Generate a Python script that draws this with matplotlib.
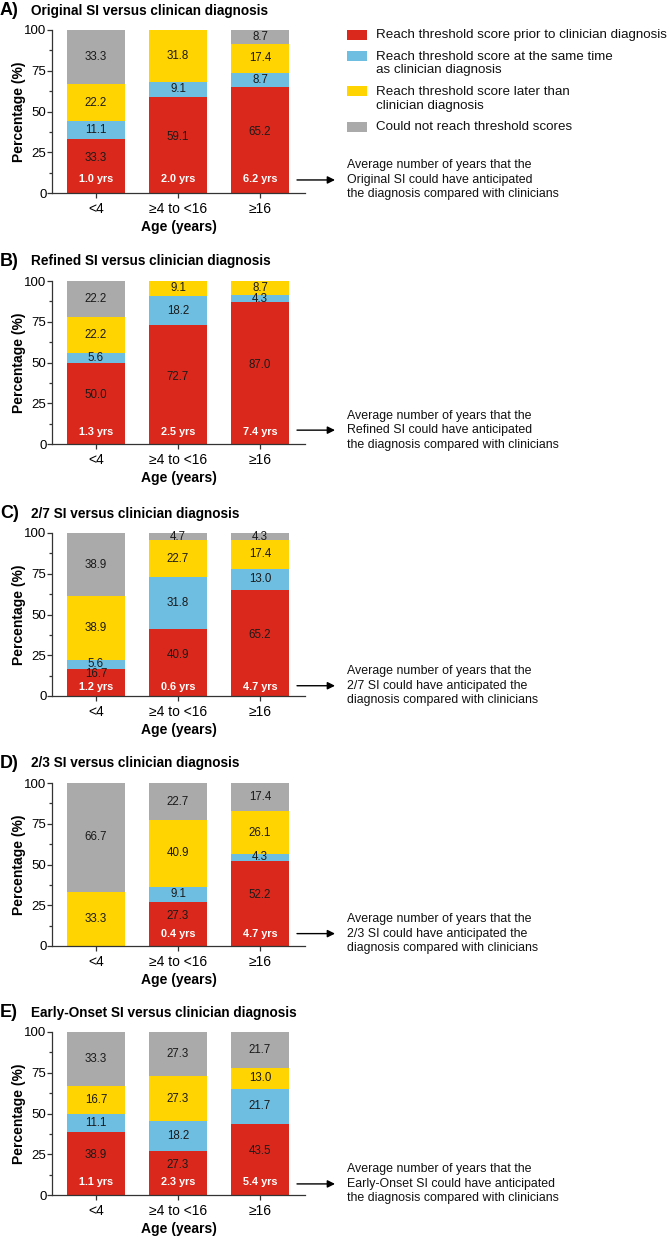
import matplotlib
matplotlib.use("Agg")
import matplotlib.pyplot as plt
from matplotlib.patches import Rectangle

plt.rcParams['font.family'] = ['Liberation Sans', 'DejaVu Sans']

# ---------------- data ----------------
groups = ['<4', '≥4 to <16', '≥16']
series_names = ['Reach threshold score prior to clinician diagnosis',
                'Reach threshold score at the same time\nas clinician diagnosis',
                'Reach threshold score later than\nclinician diagnosis',
                'Could not reach threshold scores']
series_colors = ['#DA291C', '#6EBEE2', '#FFD400', '#AAAAAA']

panel_letters = ['A)', 'B)', 'C)', 'D)', 'E)']
panel_titles = ['Original SI versus clinican diagnosis',
                'Refined SI versus clinician diagnosis',
                '2/7 SI versus clinician diagnosis',
                '2/3 SI versus clinician diagnosis',
                'Early-Onset SI versus clinician diagnosis']
panel_notes = ['Average number of years that the\nOriginal SI could have anticipated\nthe diagnosis compared with clinicians',
               'Average number of years that the\nRefined SI could have anticipated\nthe diagnosis compared with clinicians',
               'Average number of years that the\n2/7 SI could have anticipated the\ndiagnosis compared with clinicians',
               'Average number of years that the\n2/3 SI could have anticipated the\ndiagnosis compared with clinicians',
               'Average number of years that the\nEarly-Onset SI could have anticipated\nthe diagnosis compared with clinicians']

a_prior = [33.3, 59.1, 65.2]
a_same = [11.1, 9.1, 8.7]
a_later = [22.2, 31.8, 17.4]
a_none = [33.3, 0.0, 8.7]
a_years = [1.0, 2.0, 6.2]

b_prior = [50.0, 72.7, 87.0]
b_same = [5.6, 18.2, 4.3]
b_later = [22.2, 9.1, 8.7]
b_none = [22.2, 0.0, 0.0]
b_years = [1.3, 2.5, 7.4]

c_prior = [16.7, 40.9, 65.2]
c_same = [5.6, 31.8, 13.0]
c_later = [38.9, 22.7, 17.4]
c_none = [38.9, 4.7, 4.3]
c_years = [1.2, 0.6, 4.7]

d_prior = [0.0, 27.3, 52.2]
d_same = [0.0, 9.1, 4.3]
d_later = [33.3, 40.9, 26.1]
d_none = [66.7, 22.7, 17.4]
d_years = [None, 0.4, 4.7]

e_prior = [38.9, 27.3, 43.5]
e_same = [11.1, 18.2, 21.7]
e_later = [16.7, 27.3, 13.0]
e_none = [33.3, 27.3, 21.7]
e_years = [1.1, 2.3, 5.4]

panels = [
    [a_prior, a_same, a_later, a_none, a_years],
    [b_prior, b_same, b_later, b_none, b_years],
    [c_prior, c_same, c_later, c_none, c_years],
    [d_prior, d_same, d_later, d_none, d_years],
    [e_prior, e_same, e_later, e_none, e_years],
]

# ---------------- layout ----------------
W, H = 671, 1237
fig = plt.figure(figsize=(W / 100, H / 100), dpi=100)

def fx(px):
    return px / W

def fy(py):
    return 1 - py / H

axes_top_px = [30, 281, 533, 783, 1032]
yrs_label_y = [8.6, 7.6, 5.8, 7.4, 8.0]
arrow_y = [8.0, 8.5, 6.3, 7.6, 6.8]
axes_h_px = 163
ax_left_px, ax_right_px = 52, 305
c0_px, unit_px = 96, 82
xlim = ((ax_left_px - c0_px) / unit_px, (ax_right_px - c0_px) / unit_px)
bar_w = 58 / unit_px
text_dark = '#1a1a1a'

for p, (data, top_px) in enumerate(zip(panels, axes_top_px)):
    prior, same, later, none_, years = data
    bot_px = top_px + axes_h_px
    ax = fig.add_axes([fx(ax_left_px), fy(bot_px), fx(ax_right_px - ax_left_px), axes_h_px / H])
    x = list(range(len(groups)))
    bottoms = [0.0] * len(groups)
    for s, vals in enumerate([prior, same, later, none_]):
        ax.bar(x, vals, bottom=bottoms, width=bar_w, color=series_colors[s], linewidth=0)
        for i, v in enumerate(vals):
            if v > 0:
                if s == 0 and years[i] is not None:
                    yc = v / 2 + 5
                else:
                    yc = bottoms[i] + v / 2
                ax.text(i, yc, f'{v:.1f}', ha='center', va='center', fontsize=8.3, color=text_dark)
        bottoms = [b + v for b, v in zip(bottoms, vals)]
    for i, yv in enumerate(years):
        if yv is not None:
            ax.text(i, yrs_label_y[p], f'{yv:.1f} yrs', ha='center', va='center', fontsize=7.8,
                    color='white', fontweight='bold')
    ax.set_xlim(*xlim)
    ax.set_ylim(0, 100)
    ax.set_yticks([0, 25, 50, 75, 100])
    ax.set_yticks([12.5, 37.5, 62.5, 87.5], minor=True)
    ax.set_xticks(x)
    ax.set_xticklabels(groups)
    ax.tick_params(axis='both', which='major', length=3.5, width=0.9, color='#333333')
    ax.tick_params(axis='y', which='major', labelsize=9.5, pad=0.5)
    ax.tick_params(axis='x', which='major', labelsize=10, pad=3)
    ax.tick_params(axis='y', which='minor', length=2.2, width=0.9, color='#333333')
    for sp in ['top', 'right']:
        ax.spines[sp].set_visible(False)
    for sp in ['left', 'bottom']:
        ax.spines[sp].set_linewidth(0.9)
        ax.spines[sp].set_color('#333333')
    ax.set_ylabel('Percentage (%)', fontsize=10, fontweight='bold', labelpad=-1.0)
    ax.set_xlabel('Age (years)', fontsize=10, fontweight='bold', labelpad=3)
    # arrow + note
    ax.annotate('', xy=((335 - c0_px) / unit_px, arrow_y[p]), xytext=((297 - c0_px) / unit_px, arrow_y[p]),
                arrowprops=dict(arrowstyle='-|>', color='black', lw=1.0, mutation_scale=11,
                                shrinkA=0, shrinkB=0),
                annotation_clip=False)
    ax.text((347 - c0_px) / unit_px, arrow_y[p], panel_notes[p], ha='left', va='center',
            fontsize=8.9, linespacing=1.28, color='#111111', clip_on=False)
    # title
    fig.text(fx(0), fy(top_px - 19.5), panel_letters[p], ha='left', va='center',
             fontsize=13, fontweight='bold')
    fig.text(fx(31), fy(top_px - 19.5), panel_titles[p], ha='left', va='center',
             fontsize=9.8, fontweight='bold')

# ---------------- legend ----------------
leg_patch_y = [35, 56, 91, 127]
leg_text_y = [35, 63.5, 99, 127]
for s in range(len(series_names)):
    fig.patches.append(Rectangle((fx(347), fy(leg_patch_y[s] + 5)), fx(20), 10 / H,
                                 transform=fig.transFigure, facecolor=series_colors[s],
                                 edgecolor='none'))
    fig.text(fx(376), fy(leg_text_y[s]), series_names[s], ha='left', va='center',
             fontsize=9.6, linespacing=1.2, color='#111111')

fig.savefig('out.png', dpi=100)
